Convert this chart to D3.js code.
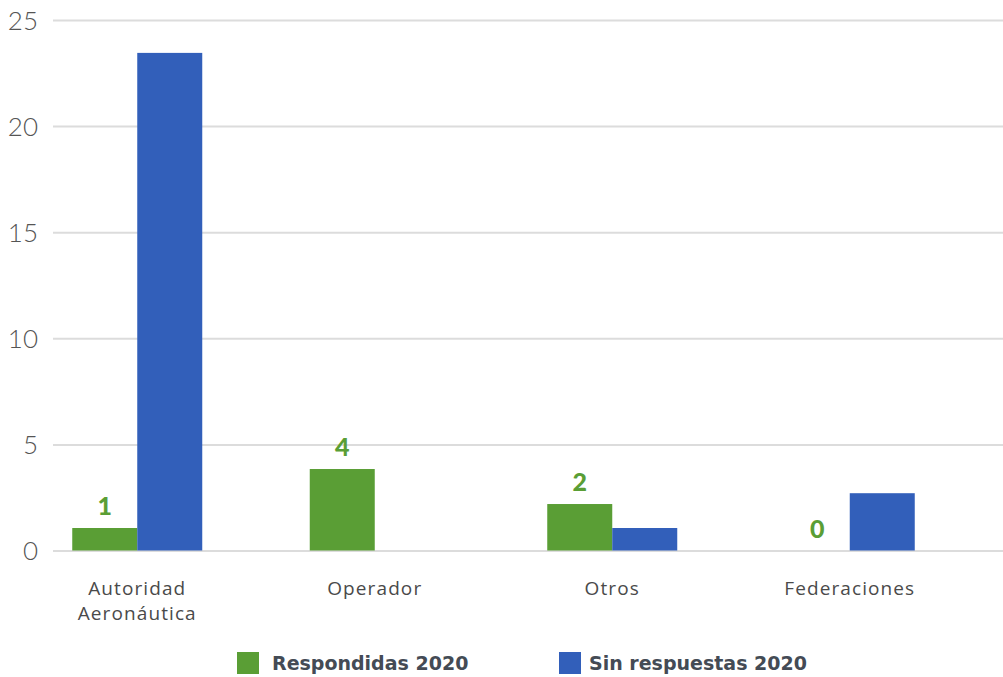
<!DOCTYPE html>
<html><head><meta charset="utf-8">
<script src="https://cdn.jsdelivr.net/npm/d3@7"></script>
<style>body{margin:0;background:#fff}svg{display:block}</style>
</head><body>
<svg id="c" width="1003" height="677"></svg>
<script>
const categories = [["Autoridad","Aeronáutica"],["Operador"],["Otros"],["Federaciones"]];
const respondidas = [1.06, 3.84, 2.19, 0];
const sinRespuestas = [23.45, 0, 1.06, 2.7];
const valueLabels = ["1","4","2","0"];
const yTicks = [0,5,10,15,20,25];
const seriesNames = ["Respondidas 2020","Sin respuestas 2020"];
const colors = ["#5a9e35","#325fba"];

const svg = d3.select("#c");
const keys = categories.map((c,i)=>i);
const x = d3.scaleBand().domain(keys).range([18.5,968.5]);
const y = d3.scaleLinear().domain([0,25]).range([550.5,20]);
const barW = 65;

const yAxis = d3.axisLeft(y).tickValues(yTicks).tickSize(0).tickPadding(0);
const gy = svg.append("g").attr("transform","translate(53,0)").call(yAxis);
gy.select(".domain").remove();
gy.selectAll(".tick line").attr("x2",950).attr("stroke","#dcdcdc").attr("stroke-width",2);
gy.selectAll(".tick text").attr("x",-15).attr("text-anchor","end").attr("dy","0.36em")
  .attr("font-family","Lato").attr("font-weight",300).attr("font-size",26).attr("fill","#555");

const cx = i => x(i)+x.bandwidth()/2;

svg.append("g").selectAll("rect").data(respondidas).join("rect")
  .attr("x",(d,i)=>cx(i)-barW).attr("width",barW)
  .attr("y",d=>y(d)).attr("height",d=>y(0)-y(d)).attr("fill",colors[0]);
svg.append("g").selectAll("rect").data(sinRespuestas).join("rect")
  .attr("x",(d,i)=>cx(i)).attr("width",barW)
  .attr("y",d=>y(d)).attr("height",d=>y(0)-y(d)).attr("fill",colors[1]);

svg.append("g").selectAll("text").data(respondidas).join("text")
  .attr("x",(d,i)=>cx(i)-barW/2).attr("y",d=>y(d)-13)
  .attr("text-anchor","middle").attr("font-family","Lato").attr("font-weight",900)
  .attr("font-size",25).attr("fill",colors[0]).text((d,i)=>valueLabels[i]);

const gx = svg.append("g");
categories.forEach((lines,i)=>{
  const t = gx.append("text").attr("x",cx(i)).attr("y",595).attr("text-anchor","middle")
    .attr("font-family","Open Sans").attr("font-weight",400).attr("font-size",19)
    .attr("letter-spacing",1.1).attr("fill","#4a4a4a");
  lines.forEach((l,j)=>t.append("tspan").attr("x",cx(i)).attr("dy",j?25:0).text(l));
});

const legX = [237,559];
const legTextX = [272,589];
seriesNames.forEach((n,i)=>{
  svg.append("rect").attr("x",legX[i]).attr("y",652).attr("width",22).attr("height",22).attr("fill",colors[i]);
  svg.append("text").attr("x",legTextX[i]).attr("y",670).attr("font-family","DejaVu Sans").attr("font-weight",700)
    .attr("font-size",19).attr("fill","#444b55").text(n);
});
</script>
</body></html>
